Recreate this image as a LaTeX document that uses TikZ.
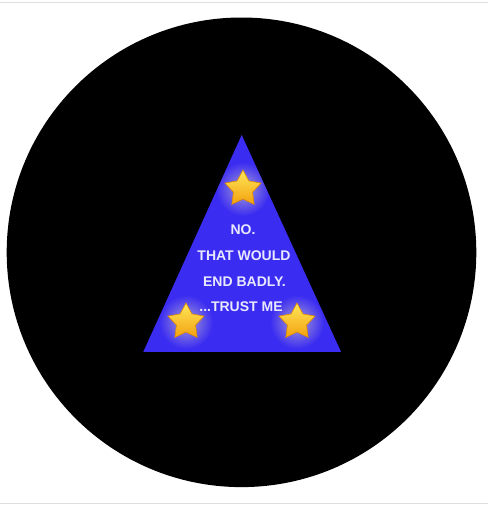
\documentclass[tikz,border=0pt]{standalone}
\usepackage{fontspec}
\setmainfont{Liberation Sans}
\usetikzlibrary{shapes.geometric,fadings}
\definecolor{triblue}{HTML}{3B2CF2}
\definecolor{txtcol}{HTML}{E8E8FF}
\definecolor{startop}{HTML}{FFE85A}
\definecolor{starbot}{HTML}{F2A00E}
\definecolor{starline}{HTML}{E08A00}
\definecolor{rulegray}{HTML}{DDDDDD}
\tikzfading[name=glowfade, inner color=transparent!45, outer color=transparent!100]
\tikzset{
  starbox/.style={star, star points=5, star point ratio=1.9, minimum size=38pt,
    inner sep=0pt, top color=startop, bottom color=starbot, draw=starline, line width=0.6pt},
  glowdisc/.style={fill=yellow!25!white, path fading=glowfade},
  msg/.style={text=txtcol, font=\fontsize{14}{16}\selectfont\bfseries, anchor=base, inner sep=0pt},
  rule/.style={draw=rulegray, line width=1pt}
}
\begin{document}
\begin{tikzpicture}[x=1pt,y=-1pt]
\useasboundingbox (0,0) rectangle (489,509);
\fill[white] (0,0) rectangle (489,509);
\coordinate (r1a) at (0,2.5); \coordinate (r1b) at (488,2.5);
\coordinate (r2a) at (0,503); \coordinate (r2b) at (488,503);
\draw[rule] (r1a) -- (r1b);
\draw[rule] (r2a) -- (r2b);
% black disc
\fill[black] (241.5,252.3) circle (234.8);
% triangle
\coordinate (apex) at (241.7,135);
\coordinate (bl) at (143.3,351.8);
\coordinate (br) at (341,351.8);
\fill[triblue] (apex) -- (br) -- (bl) -- cycle;
% glows
\begin{scope}
\clip (apex) -- (br) -- (bl) -- cycle;
\fill[glowdisc] (243,189) circle (27);
\fill[glowdisc] (186,322) circle (27);
\fill[glowdisc] (297,322) circle (27);
\end{scope}
% stars
\node[starbox] (s1) at (243,189) {};
\node[starbox] (s2) at (186,322) {};
\node[starbox] (s3) at (297,322) {};
% text
\node[msg] (t1) at (243,234) {NO.};
\node[msg] (t2) at (244,260) {THAT WOULD};
\node[msg] (t3) at (244.5,286.5) {END BADLY.};
\node[msg] (t4) at (241,311) {...TRUST ME};
\end{tikzpicture}
\end{document}
